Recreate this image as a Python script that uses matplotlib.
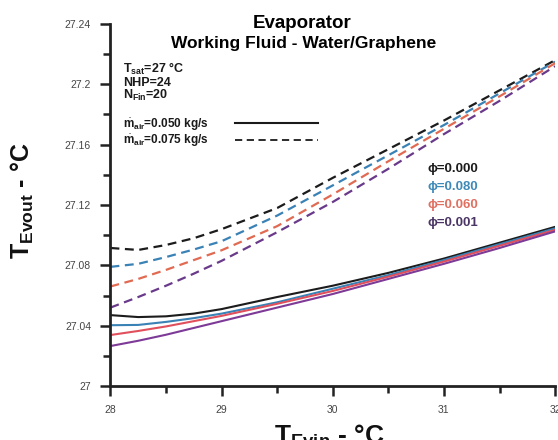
import matplotlib
matplotlib.use("Agg")
import matplotlib.pyplot as plt
from matplotlib.ticker import MultipleLocator, FormatStrFormatter

plt.rcParams['font.family'] = ['Liberation Sans', 'DejaVu Sans']
plt.rcParams['mathtext.fontset'] = 'custom'
plt.rcParams['mathtext.rm'] = 'Liberation Sans'
plt.rcParams['mathtext.bf'] = 'Liberation Sans:bold'
plt.rcParams['mathtext.it'] = 'Liberation Sans:italic'

# T_Evin (°C)
t_in = [28.0, 28.25, 28.5, 28.75, 29.0, 29.5, 30.0, 30.5, 31.0, 31.5, 32.0]

# m_air = 0.075 kg/s (dashed)
d_000 = [27.0915, 27.0902, 27.0935, 27.0980, 27.1040, 27.1180, 27.1380, 27.1570, 27.1760, 27.1960, 27.2160]
d_080 = [27.0790, 27.0810, 27.0855, 27.0905, 27.0960, 27.1130, 27.1330, 27.1530, 27.1730, 27.1940, 27.2150]
d_060 = [27.0660, 27.0710, 27.0770, 27.0835, 27.0900, 27.1060, 27.1270, 27.1490, 27.1705, 27.1920, 27.2140]
d_001 = [27.0520, 27.0590, 27.0665, 27.0745, 27.0830, 27.1020, 27.1220, 27.1440, 27.1670, 27.1890, 27.2120]

# m_air = 0.050 kg/s (solid)
s_000 = [27.0470, 27.0457, 27.0462, 27.0480, 27.0510, 27.0590, 27.0665, 27.0750, 27.0845, 27.0950, 27.1055]
s_080 = [27.0403, 27.0405, 27.0425, 27.0450, 27.0480, 27.0555, 27.0645, 27.0735, 27.0835, 27.0940, 27.1045]
s_060 = [27.0338, 27.0365, 27.0395, 27.0430, 27.0465, 27.0545, 27.0630, 27.0725, 27.0825, 27.0930, 27.1035]
s_001 = [27.0265, 27.0300, 27.0340, 27.0385, 27.0430, 27.0520, 27.0610, 27.0710, 27.0810, 27.0915, 27.1025]

phi_labels = ['ϕ=0.000', 'ϕ=0.080', 'ϕ=0.060', 'ϕ=0.001']
phi_colors = ['#1c1c1c', '#3d8ab8', '#e07060', '#4a3565']
solid_colors = ['#1c1c1c', '#3a82b5', '#e0505c', '#7d3a96']
dash_colors = ['#1c1c1c', '#3a82b5', '#e06a52', '#6a3a8a']

fig = plt.figure(figsize=(5.58, 4.40), dpi=100)
ax = fig.add_axes([0.198, 0.1227, 0.7968, 0.8228])

for ys, c in zip([s_000, s_080, s_060, s_001], solid_colors):
    ax.plot(t_in, ys, color=c, lw=1.5)
for ys, c in zip([d_000, d_080, d_060, d_001], dash_colors):
    ax.plot(t_in, ys, color=c, lw=1.6, ls=(0, (4, 2.5)))

ax.set_xlim(28, 32)
ax.set_ylim(27, 27.24)
ax.xaxis.set_major_locator(MultipleLocator(1))
ax.xaxis.set_minor_locator(MultipleLocator(0.5))
ax.yaxis.set_major_locator(MultipleLocator(0.04))
ax.yaxis.set_minor_locator(MultipleLocator(0.02))
ax.yaxis.set_major_formatter(FormatStrFormatter('%g'))
ax.xaxis.set_major_formatter(FormatStrFormatter('%g'))
ax.spines['top'].set_visible(False)
ax.spines['right'].set_visible(False)
for s in ['left', 'bottom']:
    ax.spines[s].set_linewidth(2)
    ax.spines[s].set_color('#222222')
ax.tick_params(which='major', direction='out', length=7, width=1.8, labelsize=7.5,
               colors='#222222', labelcolor='#444444', pad=7)
ax.tick_params(which='minor', direction='out', length=5, width=1.8, colors='#222222')

# titles
fig.text(0.542, 0.936, 'Evaporator', ha='center', va='baseline', fontsize=13.5, fontweight='bold')
fig.text(0.545, 0.891, 'Working Fluid - Water/Graphene', ha='center', va='baseline',
         fontsize=12.5, fontweight='bold')

# axis labels
fig.text(0.040, 0.543, r'$\mathbf{T_{Evout}}$' + ' - °C', rotation=90, ha='center', va='center',
         fontsize=18, fontweight='bold', color='#111111')
fig.text(0.59, 0.038, r'$\mathbf{T_{Evin}}$' + ' - °C', ha='center', va='top',
         fontsize=19, fontweight='bold', color='#111111')

# parameters
kw = dict(transform=ax.transAxes, fontsize=9, fontweight='bold', ha='left', va='baseline',
          color='#1a1a1a')
ax.text(0.028, 0.8646, r'$\mathbf{T_{sat}}$=27 °C', **kw)
ax.text(0.028, 0.8287, 'NHP=24', **kw)
ax.text(0.028, 0.7928, r'$\mathbf{N_{Fin}}$=20', **kw)
kw['fontsize'] = 8.5
ax.text(0.028, 0.712, r'$\dot{\mathbf{m}}_{\mathbf{air}}$=0.050 kg/s', **kw)
ax.text(0.028, 0.6685, r'$\dot{\mathbf{m}}_{\mathbf{air}}$=0.075 kg/s', **kw)
ax.plot([0.28, 0.467], [0.7265, 0.7265], transform=ax.transAxes, color='#1a1a1a', lw=1.5)
ax.plot([0.28, 0.467], [0.6796, 0.6796], transform=ax.transAxes, color='#1a1a1a', lw=1.3,
        ls=(0, (4, 2.5)))

for i, (lab, c) in enumerate(zip(phi_labels, phi_colors)):
    ax.text(0.714, 0.591 - i * 0.0497, lab, transform=ax.transAxes, fontsize=9.5,
            fontweight='bold', color=c, ha='left', va='baseline')

fig.savefig('out.png', dpi=100)
